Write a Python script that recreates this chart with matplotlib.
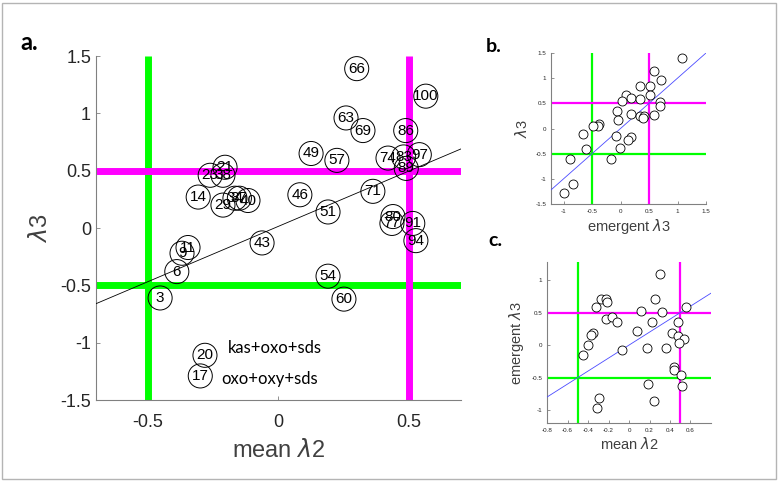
import matplotlib
matplotlib.use("Agg")
import matplotlib.pyplot as plt
from matplotlib.patches import Rectangle

# ---------------- data ----------------
# panel a: labelled conditions (mean lambda2, lambda3)
a_labels = ["66", "100", "63", "69", "86", "49", "57", "74", "83", "97", "89",
            "23", "38", "21", "14", "29", "34", "37", "40", "46", "51", "71",
            "80", "77", "91", "94", "54", "60", "43", "11", "9", "6", "3", "20", "17"]
a_x = [0.30, 0.565, 0.259, 0.324, 0.488, 0.125, 0.224, 0.42, 0.48, 0.54, 0.49,
       -0.262, -0.213, -0.205, -0.308, -0.213, -0.167, -0.15, -0.117, 0.082, 0.19, 0.362,
       0.439, 0.435, 0.515, 0.527, 0.19, 0.251, -0.063, -0.347, -0.37, -0.39, -0.454, -0.282, -0.30]
a_y = [1.39, 1.15, 0.96, 0.85, 0.85, 0.65, 0.59, 0.61, 0.62, 0.64, 0.52,
       0.46, 0.46, 0.53, 0.27, 0.20, 0.26, 0.26, 0.24, 0.29, 0.14, 0.32,
       0.10, 0.04, 0.04, -0.11, -0.42, -0.62, -0.13, -0.17, -0.22, -0.38, -0.61, -1.11, -1.29]
a_fit_x = [-0.7, 0.7]
a_fit_y = [-0.66, 0.69]
a_notes = ["kas+oxo+sds", "oxo+oxy+sds"]
a_notes_x = [-0.195, -0.218]
a_notes_y = [-1.05, -1.32]

# panel b: emergent lambda3 vs lambda3
b_x = [1.08, 0.58, 0.71, 0.34, 0.52, 0.09, 0.52, 0.18, 0.35, 0.02, 0.69, 0.69,
       -0.06, 0.19, 0.35, 0.41, 0.40, 0.58, -0.05, -0.38, -0.39, -0.48, -0.65,
       -0.08, 0.18, 0.14, -0.61, -0.01, -0.17, -0.89, -0.84, -1.0]
b_y = [1.40, 1.15, 0.97, 0.85, 0.85, 0.66, 0.66, 0.60, 0.59, 0.54, 0.52, 0.45,
       0.34, 0.29, 0.25, 0.25, 0.21, 0.27, 0.16, 0.09, 0.04, 0.04, -0.11,
       -0.14, -0.16, -0.23, -0.41, -0.39, -0.61, -0.61, -1.10, -1.29]

# panel c: mean lambda2 vs emergent lambda3
c_x = [0.30, 0.25, -0.27, -0.22, -0.21, -0.32, 0.56, 0.12, 0.32, -0.22, -0.17,
       -0.12, 0.22, 0.48, 0.08, 0.42, -0.35, -0.37, 0.48, 0.54, 0.49, -0.40,
       0.18, 0.36, -0.07, -0.45, 0.44, 0.44, 0.51, 0.52, 0.19, -0.29, -0.31, 0.24]
c_y = [1.09, 0.71, 0.71, 0.71, 0.67, 0.58, 0.58, 0.53, 0.51, 0.41, 0.43,
       0.36, 0.36, 0.35, 0.21, 0.19, 0.19, 0.15, 0.14, 0.10, 0.04, 0.0,
       -0.04, -0.04, -0.07, -0.15, -0.34, -0.39, -0.46, -0.63, -0.60, -0.81, -0.97, -0.86]

GREEN = "#00ff00"
MAGENTA = "#ff00ff"
TXT = "#262626"
SPINE = "#808080"

plt.rcParams['font.family'] = ['Liberation Sans', 'DejaVu Sans']
plt.rcParams['mathtext.fontset'] = 'dejavusans'

fig = plt.figure(figsize=(7.79, 4.83), dpi=100)
fig.patches.append(Rectangle((2/779, 4/483), 774/779, 476/483, transform=fig.transFigure,
                             fill=False, edgecolor="#b4b4b4", linewidth=1.0))


def style(ax, fs):
    for s in ["top", "right"]:
        ax.spines[s].set_visible(False)
    for s in ["left", "bottom"]:
        ax.spines[s].set_color(SPINE)
        ax.spines[s].set_linewidth(0.8)
    ax.tick_params(direction="in", colors=SPINE, labelcolor=TXT, labelsize=fs, length=3, width=0.6)


def thresholds(ax, xl, yl, lw):
    ax.plot([-0.5, -0.5], yl, color=GREEN, lw=lw, zorder=2, solid_capstyle='butt')
    ax.plot(xl, [-0.5, -0.5], color=GREEN, lw=lw, zorder=2, solid_capstyle='butt')
    ax.plot([0.5, 0.5], yl, color=MAGENTA, lw=lw, zorder=2, solid_capstyle='butt')
    ax.plot(xl, [0.5, 0.5], color=MAGENTA, lw=lw, zorder=2, solid_capstyle='butt')


# ---------------- panel a ----------------
axa = fig.add_axes([0.1232, 0.1718, 0.4686, 0.7122])
xl, yl = (-0.7, 0.7), (-1.5, 1.5)
thresholds(axa, xl, yl, 5)
axa.plot(a_fit_x, a_fit_y, color="black", lw=0.6, zorder=3)
axa.scatter(a_x, a_y, s=300, facecolors="none", edgecolors="black", linewidths=0.7, zorder=4)
for lab, x, y in zip(a_labels, a_x, a_y):
    axa.text(x, y, lab, ha="center", va="center", fontsize=11, color="black", zorder=5)
for t, x, y in zip(a_notes, a_notes_x, a_notes_y):
    axa.text(x, y, t, ha="left", va="center", fontsize=12, family=["Lato", "DejaVu Sans"], color="black")
axa.set_xlim(*xl)
axa.set_ylim(*yl)
axa.set_xticks([-0.5, 0, 0.5])
axa.set_xticklabels(["-0.5", "0", "0.5"])
axa.set_yticks([-1.5, -1, -0.5, 0, 0.5, 1, 1.5])
axa.set_yticklabels(["-1.5", "-1", "-0.5", "0", "0.5", "1", "1.5"])
style(axa, 13)
axa.tick_params(axis="x", pad=10)
axa.set_xlabel(r"mean $\lambda$2", fontsize=17, color="#404040", labelpad=6)
axa.set_ylabel(r"$\lambda$3", fontsize=17, color="#404040", labelpad=6)

# ---------------- panel b ----------------
axb = fig.add_axes([0.7073, 0.5776, 0.199, 0.3127])
xl, yl = (-1.22, 1.5), (-1.5, 1.5)
thresholds(axb, xl, yl, 1.6)
axb.plot([-1.22, 1.5], [-1.22, 1.5], color="#4a4aff", lw=0.6, zorder=3)
axb.scatter(b_x, b_y, s=42, facecolors="white", edgecolors="black", linewidths=0.6, zorder=4)
axb.set_xlim(*xl)
axb.set_ylim(*yl)
axb.set_xticks([-1, -0.5, 0, 0.5, 1, 1.5])
axb.set_xticklabels(["-1", "-0.5", "0", "0.5", "1", "1.5"])
axb.set_yticks([-1.5, -1, -0.5, 0, 0.5, 1, 1.5])
axb.set_yticklabels(["-1.5", "-1", "-0.5", "0", "0.5", "1", "1.5"])
style(axb, 4.5)
axb.tick_params(length=2)
axb.set_xlabel(r"emergent $\lambda$3", fontsize=10.5, color="#404040", labelpad=2)
axb.set_ylabel(r"$\lambda$3", fontsize=10.5, color="#404040", labelpad=4)

# ---------------- panel c ----------------
axc = fig.add_axes([0.7022, 0.1242, 0.2105, 0.3333])
xl, yl = (-0.8, 0.8), (-1.2, 1.28)
thresholds(axc, xl, yl, 1.6)
axc.plot([-0.8, 0.8], [-0.8, 0.8], color="#4a4aff", lw=0.6, zorder=3)
axc.scatter(c_x, c_y, s=42, facecolors="white", edgecolors="black", linewidths=0.6, zorder=4)
axc.set_xlim(*xl)
axc.set_ylim(*yl)
axc.set_xticks([-0.8, -0.6, -0.4, -0.2, 0, 0.2, 0.4, 0.6])
axc.set_xticklabels(["-0.8", "-0.6", "-0.4", "-0.2", "0", "0.2", "0.4", "0.6"])
axc.set_yticks([-1, -0.5, 0, 0.5, 1])
axc.set_yticklabels(["-1", "-0.5", "0", "0.5", "1"])
style(axc, 4.5)
axc.tick_params(length=2)
axc.set_xlabel(r"mean $\lambda$2", fontsize=10.5, color="#404040", labelpad=2)
axc.set_ylabel(r"emergent $\lambda$3", fontsize=10.5, color="#404040", labelpad=4)

# panel letters
for letter, x, y, fs in [("a.", 20/779, 1 - 42/483, 17), ("b.", 486/779, 1 - 46/483, 14),
                         ("c.", 488/779, 1 - 240/483, 14)]:
    fig.text(x, y, letter, fontsize=fs, fontweight="bold", family=["Lato", "DejaVu Sans"],
             ha="left", va="center", color="black")

fig.savefig("out.png", dpi=100)
